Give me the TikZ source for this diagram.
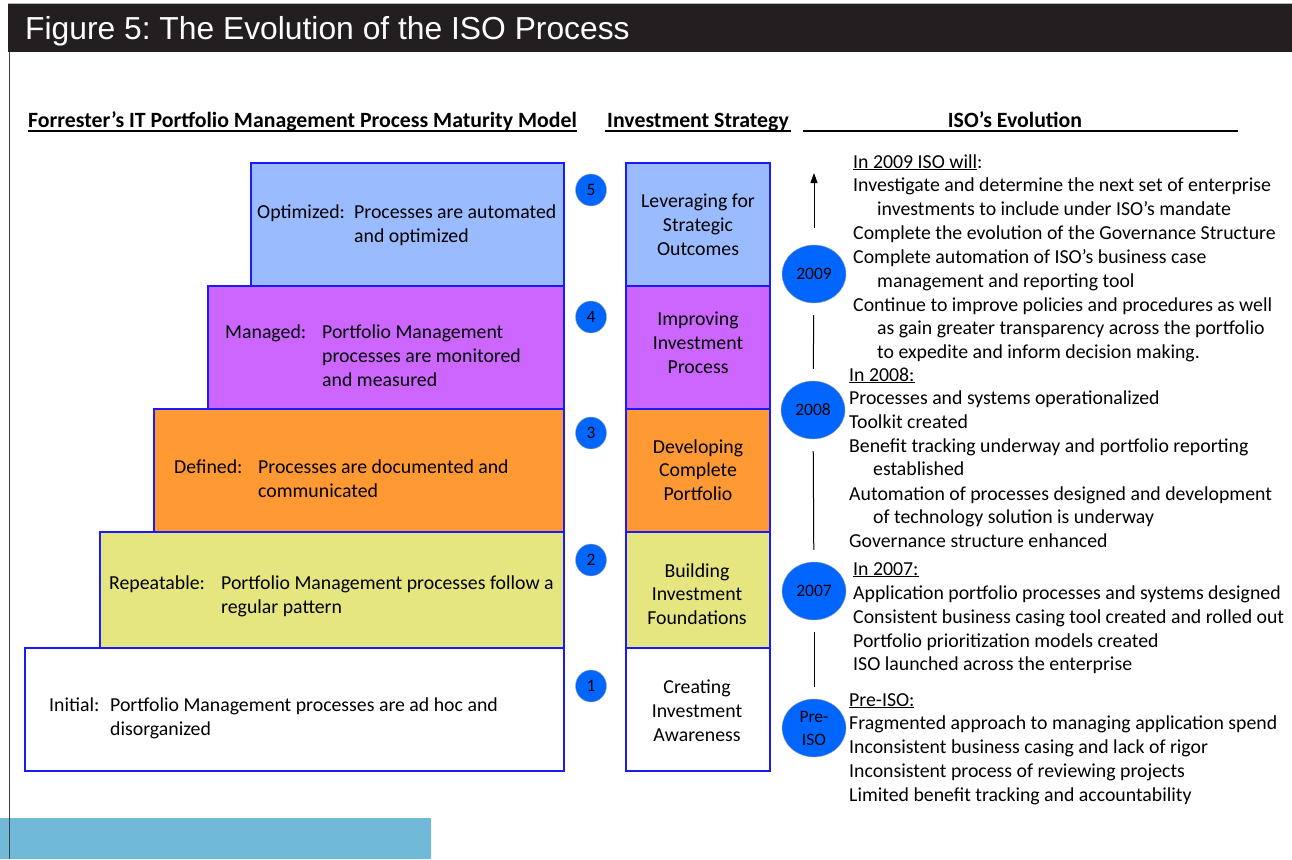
\documentclass[tikz,border=0pt]{standalone}
\usepackage{fontspec}
\setmainfont{Carlito}
\newfontfamily\titlefont{Liberation Sans}
\usepackage{xcolor}
\usetikzlibrary{arrows.meta}
\usetikzlibrary{shapes.geometric,positioning}
\frenchspacing

\definecolor{barblack}{HTML}{231F20}
\definecolor{optblue}{HTML}{9BBBFF}
\definecolor{mgdpurple}{HTML}{CC66FF}
\definecolor{deforange}{HTML}{FF9933}
\definecolor{repyellow}{HTML}{E6E680}
\definecolor{edgeblue}{HTML}{1A1AFF}
\definecolor{dotblue}{HTML}{0066FF}
\definecolor{bandblue}{HTML}{70B9D9}

\begin{document}
\begin{tikzpicture}[x=1pt,y=-1pt]
  \tikzset{stage/.style = {draw=edgeblue, line width=1.2pt}}
  \tikzset{body/.style = {inner sep=0pt, font=\fontsize{19.8}{23.8}\selectfont}}
  \tikzset{lbl/.style = {body, anchor=base west, align=left}}
  \tikzset{strat/.style = {body, align=center}}
  \tikzset{hdr/.style = {inner sep=0pt, anchor=base west, font=\fontsize{21.8}{24}\selectfont\bfseries}}
  \tikzset{uline/.style = {line width=1.6pt}}
  \tikzset{numdot/.style = {shape=ellipse, draw=gray!70, fill=dotblue, minimum width=31pt, minimum height=32pt, inner sep=0pt, font=\fontsize{17.5}{19}\selectfont}}
  \tikzset{yeardot/.style = {shape=ellipse, draw=gray!70, fill=dotblue, minimum width=64pt, minimum height=58pt, inner sep=0pt, align=center, font=\fontsize{17.5}{23}\selectfont}}
  \tikzset{timeline/.style = {line width=1pt, shorten <=12pt, shorten >=12pt}}
  \useasboundingbox (0,0) rectangle (1292,859);

  % title bar
  \fill[barblack] (8,4) rectangle (1292,52);
  \draw[gray!60, line width=1pt] (8,3.5) -- (1292,3.5);
  \node[inner sep=0pt, anchor=base west, text=white, font=\titlefont\fontsize{31.8}{34}\selectfont] (title) at (25,40) {Figure 5: The Evolution of the ISO Process};

  % band at the foot and the left rule
  \fill[bandblue] (0,818) rectangle (431,859);
  \draw[black!75, line width=0.8pt] (9,52) -- (9,859);

  % column headings
  \node[hdr] (hmodel) at (28,127) {Forrester's IT Portfolio Management Process Maturity Model};
  \node[hdr] (hstrat) at (607,127) {Investment Strategy};
  \node[hdr, anchor=base] (hiso) at (1015,127) {ISO's Evolution};
  \draw[uline] ([yshift=-4pt]hmodel.base west) -- ([yshift=-4pt]hmodel.base east);
  \draw[uline] ([yshift=-4pt,xshift=-2pt]hstrat.base west) -- ([yshift=-4pt,xshift=2pt]hstrat.base east);
  \draw[uline] (803,131) -- (1238,131);

  % maturity steps and strategy boxes
  \foreach \xl/\yt/\yb/\col in {251/163/286/optblue, 208/286/409/mgdpurple, 154/409/532/deforange, 100/532/648/repyellow, 25/648/771/white}
  {
    \filldraw[stage, fill=\col] (\xl,\yt) rectangle (564,\yb);
    \filldraw[stage, fill=\col] (626,\yt) rectangle (770,\yb);
  }

  % multi-line texts sit on the baseline of their last line
  \node[lbl] (opt) at (257,218) {Optimized:};
  \node[lbl] (opt-t) at (354,242) {Processes are automated\\and optimized};
  \node[lbl] (mgd) at (225,338) {Managed:};
  \node[lbl] (mgd-t) at (322,386) {Portfolio Management\\processes are monitored\\and measured};
  \node[lbl] (def) at (174,473) {Defined:};
  \node[lbl] (def-t) at (258,497) {Processes are documented and\\communicated};
  \node[lbl] (rep) at (109,589) {Repeatable:};
  \node[lbl] (rep-t) at (221,613) {Portfolio Management processes follow a\\regular pattern};
  \node[lbl] (ini) at (49,711) {Initial:};
  \node[lbl] (ini-t) at (110,735) {Portfolio Management processes are ad hoc and\\disorganized};

  \node[strat] (s5) at (698,225) {Leveraging for\\Strategic\\Outcomes};
  \node[strat] (s4) at (698,343) {Improving\\Investment\\Process};
  \node[strat] (s3) at (698,470) {Developing\\Complete\\Portfolio};
  \node[strat] (s2) at (697,594) {Building\\Investment\\Foundations};
  \node[strat] (s1) at (697,711) {Creating\\Investment\\Awareness};

  \foreach \n/\y in {5/190, 4/317, 3/433, 2/560, 1/686}
    \node[numdot] (n\n) at (591,\y) {\n};

  % timeline
  \node[yeardot] (y2009) at (814,274) {2009};
  \node[yeardot] (y2008) at (813,410) {2008};
  \node[yeardot] (y2007) at (814,591) {2007};
  \node[yeardot] (pre) at (814,728) {Pre-\\ISO};
  \coordinate (ahead) at (814,173);

  \foreach \from/\to in {y2009/y2008, y2008/y2007, y2007/pre}
    \path[timeline] (\from) edge (\to);
  \path[timeline, shorten <=17pt, shorten >=0pt, -{Triangle[width=7pt,length=10pt]}] (y2009) edge (ahead);

  % milestones
  \foreach \y/\x/\txt in {162/853/{\underline{In 2009 ISO will}:},
      185/853/Investigate and determine the next set of enterprise,
      209/877/investments to include under ISO's mandate,
      233/853/Complete the evolution of the Governance Structure,
      257/853/Complete automation of ISO's business case,
      281/877/management and reporting tool,
      305/853/Continue to improve policies and procedures as well,
      328/877/as gain greater transparency across the portfolio,
      352/877/to expedite and inform decision making.,
      375/849/{\underline{In 2008:}},
      398/849/Processes and systems operationalized,
      422/849/Toolkit created,
      446/849/Benefit tracking underway and portfolio reporting,
      469/873/established,
      494/849/Automation of processes designed and development,
      517/873/of technology solution is underway,
      541/849/Governance structure enhanced,
      569/853/{\underline{In 2007:}},
      593/853/Application portfolio processes and systems designed,
      617/853/Consistent business casing tool created and rolled out,
      641/853/Portfolio prioritization models created,
      664/853/ISO launched across the enterprise,
      700/849/{\underline{Pre-ISO:}},
      723/849/Fragmented approach to managing application spend,
      747/849/Inconsistent business casing and lack of rigor,
      771/849/Inconsistent process of reviewing projects,
      795/849/Limited benefit tracking and accountability}
    \node[lbl] (m\y) at (\x,\y+6) {\txt};
\end{tikzpicture}
\end{document}
